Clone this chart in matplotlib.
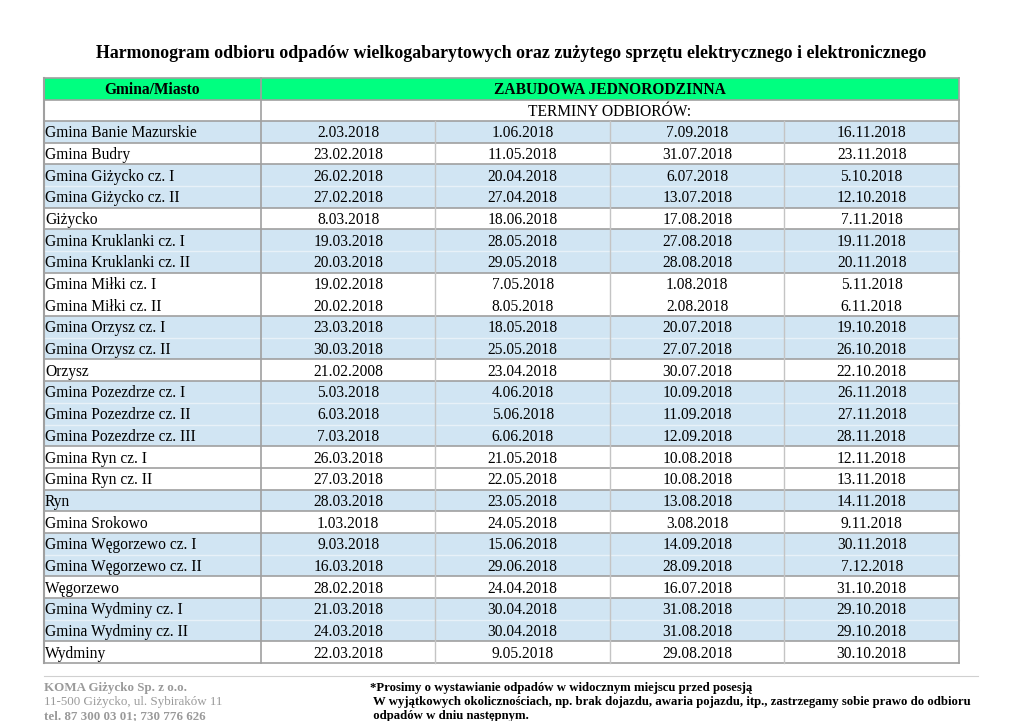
import matplotlib.pyplot as plt

title = "Harmonogram odbioru odpadów wielkogabarytowych oraz zużytego sprzętu elektrycznego i elektronicznego"
col_header = "Gmina/Miasto"
group_header = "ZABUDOWA JEDNORODZINNA"
sub_header = "TERMINY ODBIORÓW:"

places = ["Gmina Banie Mazurskie", "Gmina Budry", "Gmina Giżycko cz. I", "Gmina Giżycko cz. II",
          "Giżycko", "Gmina Kruklanki cz. I", "Gmina Kruklanki cz. II", "Gmina Miłki cz. I",
          "Gmina Miłki cz. II", "Gmina Orzysz cz. I", "Gmina Orzysz cz. II", "Orzysz",
          "Gmina Pozezdrze cz. I", "Gmina Pozezdrze cz. II", "Gmina Pozezdrze cz. III",
          "Gmina Ryn cz. I", "Gmina Ryn cz. II", "Ryn", "Gmina Srokowo", "Gmina Węgorzewo cz. I",
          "Gmina Węgorzewo cz. II", "Węgorzewo", "Gmina Wydminy cz. I", "Gmina Wydminy cz. II",
          "Wydminy"]
term1 = ["2.03.2018", "23.02.2018", "26.02.2018", "27.02.2018", "8.03.2018", "19.03.2018",
         "20.03.2018", "19.02.2018", "20.02.2018", "23.03.2018", "30.03.2018", "21.02.2008",
         "5.03.2018", "6.03.2018", "7.03.2018", "26.03.2018", "27.03.2018", "28.03.2018",
         "1.03.2018", "9.03.2018", "16.03.2018", "28.02.2018", "21.03.2018", "24.03.2018",
         "22.03.2018"]
term2 = ["1.06.2018", "11.05.2018", "20.04.2018", "27.04.2018", "18.06.2018", "28.05.2018",
         "29.05.2018", "7.05.2018", "8.05.2018", "18.05.2018", "25.05.2018", "23.04.2018",
         "4.06.2018", "5.06.2018", "6.06.2018", "21.05.2018", "22.05.2018", "23.05.2018",
         "24.05.2018", "15.06.2018", "29.06.2018", "24.04.2018", "30.04.2018", "30.04.2018",
         "9.05.2018"]
term3 = ["7.09.2018", "31.07.2018", "6.07.2018", "13.07.2018", "17.08.2018", "27.08.2018",
         "28.08.2018", "1.08.2018", "2.08.2018", "20.07.2018", "27.07.2018", "30.07.2018",
         "10.09.2018", "11.09.2018", "12.09.2018", "10.08.2018", "10.08.2018", "13.08.2018",
         "3.08.2018", "14.09.2018", "28.09.2018", "16.07.2018", "31.08.2018", "31.08.2018",
         "29.08.2018"]
term4 = ["16.11.2018", "23.11.2018", "5.10.2018", "12.10.2018", "7.11.2018", "19.11.2018",
         "20.11.2018", "5.11.2018", "6.11.2018", "19.10.2018", "26.10.2018", "22.10.2018",
         "26.11.2018", "27.11.2018", "28.11.2018", "12.11.2018", "13.11.2018", "14.11.2018",
         "9.11.2018", "30.11.2018", "7.12.2018", "31.10.2018", "29.10.2018", "29.10.2018",
         "30.10.2018"]
# row groups as printed (rows of one group share a band)
groups = [0, 1, 2, 2, 3, 4, 4, 5, 5, 6, 6, 7, 8, 8, 8, 9, 10, 11, 12, 13, 13, 14, 15, 15, 16]
shaded = [True, False, True, True, False, True, True, False, False, True, True, False,
          True, True, True, False, False, True, False, True, True, False, True, True, False]

footer_left = ["KOMA Giżycko Sp. z o.o.", "11-500 Giżycko, ul. Sybiraków 11", "tel. 87 300 03 01; 730 776 626"]
footer_right = ["*Prosimy o wystawianie odpadów w widocznym miejscu przed posesją",
                " W wyjątkowych okolicznościach, np. brak dojazdu, awaria pojazdu, itp., zastrzegamy sobie prawo do odbioru",
                " odpadów w dniu następnym."]

plt.rcParams['font.family'] = ['Liberation Serif', 'DejaVu Serif']

fig = plt.figure(figsize=(10.2, 7.21), dpi=100)
ax = fig.add_axes([0, 0, 1, 1])
ax.set_xlim(0, 1020)
ax.set_ylim(721, 0)
ax.axis('off')

left, right = 44, 959
name_w = 217
col_w = (right - left - name_w) / 4
top = 78
head_h = 21.5
row_h = 21.68
blue = '#d1e5f3'
green = '#00ff80'
line = '#a0a0a0'
fs = 11.2

ax.text(511, 54, title, ha='center', va='center', fontsize=12.9, fontweight='bold')

# header
ax.add_patch(plt.Rectangle((left, top), right - left, head_h, color=green, lw=0))
ax.text(left + name_w / 2, top + head_h / 2 + 1.5, col_header, ha='center', va='center', fontsize=fs, fontweight='bold')
ax.text(left + name_w + 2 * col_w, top + head_h / 2 + 1.5, group_header, ha='center', va='center', fontsize=fs, fontweight='bold')
ax.text(left + name_w + 2 * col_w, top + 1.5 * head_h + 1.5, sub_header, ha='center', va='center', fontsize=fs)

y0 = top + 2 * head_h
terms = [term1, term2, term3, term4]
for i, name in enumerate(places):
    y = y0 + i * row_h
    if shaded[i]:
        ax.add_patch(plt.Rectangle((left, y), right - left, row_h, color=blue, lw=0))
    ax.text(left + 1, y + row_h / 2 + 1.5, name, ha='left', va='center', fontsize=fs)
    for j, t in enumerate(terms):
        ax.text(left + name_w + (j + 0.5) * col_w, y + row_h / 2 + 1.5, t[i], ha='center', va='center', fontsize=fs)
    if i > 0:
        if groups[i] != groups[i - 1]:
            ax.plot([left, right], [y, y], color=line, lw=1.2)
        elif shaded[i]:
            ax.plot([left, right], [y, y], color='#e8f1f8', lw=1.0)

bottom = y0 + len(places) * row_h
# borders
ax.plot([left, right], [top, top], color=line, lw=1.2)
ax.plot([left, right], [top + head_h, top + head_h], color=line, lw=1.2)
ax.plot([left, right], [y0, y0], color=line, lw=1.2)
ax.plot([left, right], [bottom, bottom], color=line, lw=1.2)
ax.plot([left, left], [top, bottom], color=line, lw=1.5)
ax.plot([right, right], [top, bottom], color=line, lw=1.2)
ax.plot([left + name_w] * 2, [top, bottom], color=line, lw=1.2)
for j in range(1, 4):
    x = left + name_w + j * col_w
    ax.plot([x, x], [y0, bottom], color='#c4c4c4', lw=1.0)

# footer
ax.plot([44, 978], [676, 676], color='#d0d0d0', lw=0.8)
for k, s in enumerate(footer_left):
    ax.text(44, 688 + k * 14, s, ha='left', va='center', fontsize=9.4, color='#9a9a9a',
            fontweight='normal' if k == 1 else 'bold')
for k, s in enumerate(footer_right):
    ax.text(370, 688 + k * 14, s, ha='left', va='center', fontsize=9.2, fontweight='bold')

fig.savefig('out.png', dpi=100)
